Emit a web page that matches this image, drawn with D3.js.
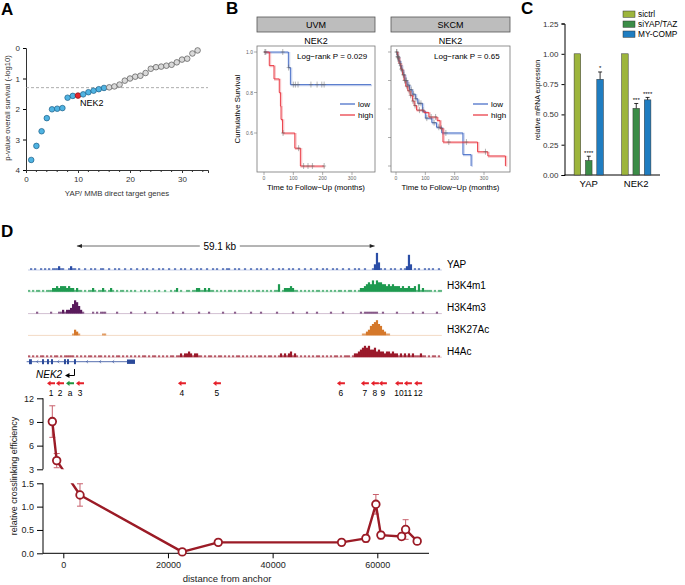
<!DOCTYPE html>
<html><head><meta charset="utf-8">
<script src="https://cdn.jsdelivr.net/npm/d3@7"></script>
<style>body{margin:0;background:#fff} svg{display:block} text{font-family:"Liberation Sans",Arial,Helvetica,sans-serif}</style>
</head><body><svg id="c" width="685" height="585"></svg>
<script>
// ---------------- DATA ----------------
// Panel A
const survNegLogP = [3.67,3.21,2.73,2.30,2.01,1.99,1.97,1.63,1.57,1.56,1.52,1.45,1.40,1.35,1.31,1.29,1.26,1.20,1.07,1.00,0.94,0.91,0.82,0.68,0.63,0.61,0.58,0.55,0.47,0.38,0.35,0.18,0.08];
const survStatus = ["sig","sig","sig","sig","sig","sig","sig","sig","sig","nek2","sig","sig","sig","sig","sig","ns","ns","ns","ns","ns","ns","ns","ns","ns","ns","ns","ns","ns","ns","ns","ns","ns","ns"];
const survThreshold = 1.3;
const aYTicks = [0,1,2,3,4];
const aXTicks = [0,10,20,30];

// Panel B
const uvmLow = [[0,1.0],[83,0.923],[90,0.839]];
const uvmLowEnd = 365;
const uvmLowCensor = [3,6,64,84,100,107,116,160,181,197,205];
const uvmHigh = [[0,1.0],[18,0.933],[34,0.867],[52,0.80],[56,0.733],[58,0.667],[63,0.60],[105,0.525],[124,0.437]];
const uvmHighEnd = 205;
const uvmHighCensor = [65,118,135,150,165,205];
const skcmLow = [[0,1.0],[4,0.96],[9,0.92],[14,0.88],[19,0.84],[24,0.80],[30,0.75],[38,0.71],[46,0.67],[55,0.63],[66,0.59],[74,0.55],[90,0.48],[100,0.42],[122,0.38],[138,0.34],[156,0.29],[228,0.10],[256,0.0]];
const skcmLowEnd = 256;
const skcmLowCensor = [2,5,7,11,16,21,27,33,36,44,52,60,68,78,85,105,130,146,170];
const skcmHigh = [[0,1.0],[5,0.95],[10,0.90],[16,0.85],[22,0.80],[27,0.75],[33,0.70],[40,0.66],[48,0.62],[56,0.57],[62,0.53],[70,0.49],[95,0.47],[112,0.43],[140,0.40],[150,0.33],[160,0.21],[278,0.125],[313,0.088],[373,0.0]];
const skcmHighEnd = 373;
const skcmHighCensor = [3,6,9,13,18,25,29,37,45,50,58,65,80,92,120,135,155,180,240,305];
const bUvmYTicks = [0.6,0.8,1.0];
const bSkcmYTicks = [0,0.25,0.5,0.75,1.0];
const bXTicks = [0,100,200,300];

// Panel C
const cGenes = ["YAP","NEK2"];
const cSeries = ["sictrl","siYAP/TAZ","MY-COMP"];
const cValues = [[1.0,0.12,0.79],[1.0,0.55,0.62]];
const cErrors = [[0,0.035,0.06],[0,0.04,0.02]];
const cStars = [["","****","*"],["","***","****"]];
const cColors = ["#9db53c","#3b8c47","#1f7dc1"];
const cYTicks = [0,0.25,0.5,0.75,1.0,1.25];

// Panel D
const trackNames = ["YAP","H3K4m1","H3K4m3","H3K27Ac","H4Ac"];
const trackColors = ["#2b4ea6","#1e9a50","#5a1b5c","#d5782b","#9b1a2b"];
const trackStart = -6740, trackBin = 382;
const sigYAP = Array.from("0101001010"+"1011121100"+"1211010010"+"0101001100"+"1001010010"+"0100100101"+"0010010100"+"1001001010"+"0100101001"+"0010100101"+"1001010010"+"0100101001"+"0010010100"+"1010010010"+"0100100101"+"0010100100"+"1001010010"+"0013941010"+"0101001012"+"8301010010"+"1010010", Number);
const sigH3K4m1 = Array.from("1010110101"+"1122323332"+"3221211010"+"1121011210"+"1210101101"+"0101001010"+"1001010010"+"0101201001"+"1011221121"+"2110101010"+"1101011010"+"1010110101"+"0101140122"+"2321101010"+"1010110101"+"0101011010"+"1101012234"+"5464655443"+"4343332322"+"3223141211"+"1101011", Number);
const sigH3K4m3 = Array.from("0000100000"+"0100011212"+"2357642100"+"0010101110"+"0000100000"+"0100000010"+"0000100000"+"0010000100"+"0000010000"+"1000000100"+"0001000000"+"0100001000"+"0000100000"+"0010000001"+"0000100000"+"0100000100"+"0000001011"+"1111100100"+"0000100000"+"0010000100"+"0000100", Number);
const sigH3K27Ac = Array.from("0000000000"+"0000000000"+"0013210000"+"0000000110"+"0000000000"+"0000000000"+"0000000000"+"0000000000"+"0000000000"+"0000000000"+"0000000000"+"0000000000"+"0000000000"+"0000000000"+"0000000000"+"0000000000"+"0000000112"+"3567865321"+"1000000000"+"0000000000"+"0000000", Number);
const sigH4Ac = Array.from("1010101101"+"0101101011"+"1110101010"+"1101011010"+"1010110101"+"0101010110"+"1011010101"+"0110112122"+"3212211010"+"1101011010"+"1010110101"+"0101011010"+"1101012121"+"2312101010"+"1010110101"+"0101101011"+"1012234565"+"6445343323"+"3232212121"+"2121112110"+"1011010", Number);
const trackSignals = [sigYAP,sigH3K4m1,sigH3K4m3,sigH3K27Ac,sigH4Ac];
const geneSpan = [-7000, 13700];
const geneExons = [[-6550,-6000],[-4070,-3690],[-3120,-2740],[-2350,-1970],[130,510],[700,1090],[2040,2420],[12170,13700]];
const scaleBar = [2600, 59500];
const scaleBarLabel = "59.1 kb";
const primerLabels = ["1","2","a","3","4","5","6","7","8","9","10","11","12"];
const primerPos = [-2350,-630,1280,3190,22670,29360,53050,57630,59540,61070,64150,65850,67800];
const xlDist = [-2100,-1260,3190,22730,29610,53180,57820,59730,60690,64640,65410,67620];
const xlVal = [9.05,4.1,1.25,0.03,0.235,0.235,0.32,1.05,0.39,0.36,0.51,0.26];
const xlErr = [2.0,0.9,0.24,0.02,0.03,0.02,0.08,0.21,0.08,0.07,0.21,0.07];
const dXTicks = [0,20000,40000,60000];
const dUpTicks = [3,6,9,12];
const dLoTicks = [0,0.5,1.0,1.5];

// ---------------- DRAW ----------------
const svg = d3.select("#c");
svg.append("rect").attr("width",685).attr("height",585).attr("fill","#fff");
function label(t,x,y){svg.append("text").attr("x",x).attr("y",y).attr("font-size",17).attr("font-weight","bold").text(t);}
label("A",1,15); label("B",226,14); label("C",521,14); label("D",1,237);

// ===== Panel A =====
{
  const g = svg.append("g");
  const x = d3.scaleLinear().domain([0,35]).range([26,208]);
  const y = d3.scaleLinear().domain([0,4]).range([48,170]);
  const ax = g.append("g").attr("transform","translate(0,170)")
    .call(d3.axisBottom(x).tickValues(aXTicks).tickSize(3).tickFormat(d3.format("d")));
  ax.selectAll("text").attr("font-size",8).attr("fill","#333");
  ax.select(".domain").attr("stroke","#333");
  ax.selectAll(".tick line").attr("stroke","#333");
  g.append("g").selectAll("line").data(d3.range(2,35,2).filter(v=>v%10!==0)).join("line")
    .attr("x1",d=>x(d)).attr("x2",d=>x(d)).attr("y1",170).attr("y2",172).attr("stroke","#333");
  const ay = g.append("g").attr("transform","translate(26,0)")
    .call(d3.axisLeft(y).tickValues(aYTicks).tickSize(3).tickFormat(d3.format("d")));
  ay.selectAll("text").attr("font-size",8).attr("fill","#333");
  ay.select(".domain").attr("stroke","#333");
  g.append("line").attr("x1",x(0)).attr("x2",x(35)).attr("y1",y(survThreshold)).attr("y2",y(survThreshold))
    .attr("stroke","#999").attr("stroke-dasharray","3,2").attr("stroke-width",0.8);
  const fill = {sig:"#4fb3e2",nek2:"#e5262c",ns:"#d9d9d9"};
  const strk = {sig:"#1d5f86",nek2:"#8a1014",ns:"#555"};
  g.selectAll("circle").data(survNegLogP).join("circle")
    .attr("cx",(d,i)=>x(i+1)).attr("cy",d=>y(d)).attr("r",2.8)
    .attr("fill",(d,i)=>fill[survStatus[i]]).attr("stroke",(d,i)=>strk[survStatus[i]]).attr("stroke-width",0.7);
  const ni = survStatus.indexOf("nek2");
  g.append("text").attr("x",x(ni+1)+2).attr("y",y(survNegLogP[ni])+10).attr("font-size",9).text("NEK2");
  g.append("text").attr("x",x(17.5)).attr("y",196).attr("text-anchor","middle").attr("font-size",7.8).attr("fill","#333").text("YAP/ MMB direct target genes");
  g.append("text").attr("transform","translate(10,108) rotate(-90)").attr("text-anchor","middle").attr("font-size",7.6).attr("fill","#333").text("p-value overall survival (-log10)");
}

// ===== Panel B =====
function survPanel(opt){
  const g = svg.append("g");
  const {x0,x1,yTop,yBot} = opt;
  g.append("rect").attr("x",x0).attr("y",17).attr("width",x1-x0).attr("height",15).attr("fill","#bdbdbd").attr("stroke","#555").attr("stroke-width",0.8);
  g.append("text").attr("x",(x0+x1)/2).attr("y",28).attr("text-anchor","middle").attr("font-size",9).text(opt.name);
  g.append("text").attr("x",(x0+x1)/2).attr("y",44).attr("text-anchor","middle").attr("font-size",9).text("NEK2");
  g.append("rect").attr("x",x0).attr("y",yTop).attr("width",x1-x0).attr("height",yBot-yTop).attr("fill","#fff").attr("stroke","#777").attr("stroke-width",0.8);
  const x = opt.x, y = opt.y;
  g.selectAll(".yt").data(opt.yTicks).join("line").attr("x1",x0-3).attr("x2",x0).attr("y1",d=>y(d)).attr("y2",d=>y(d)).attr("stroke","#777").attr("stroke-width",0.6);
  if(opt.yLabels) g.selectAll(".ytl").data(opt.yTicks).join("text").attr("x",x0-4).attr("y",d=>y(d)+2).attr("text-anchor","end").attr("font-size",5).attr("fill","#666").text(d=>d.toFixed(1));
  g.selectAll(".xt").data(bXTicks).join("line").attr("x1",d=>x(d)).attr("x2",d=>x(d)).attr("y1",yBot).attr("y2",yBot+3).attr("stroke","#777").attr("stroke-width",0.6);
  g.selectAll(".xtl").data(bXTicks).join("text").attr("x",d=>x(d)).attr("y",yBot+8).attr("text-anchor","middle").attr("font-size",5).attr("fill","#666").text(d=>d);
  const clipId = "clip"+opt.name;
  g.append("clipPath").attr("id",clipId).append("rect").attr("x",x0).attr("y",yTop).attr("width",x1-x0).attr("height",yBot-yTop);
  const line = d3.line().x(d=>x(d[0])).y(d=>y(d[1])).curve(d3.curveStepAfter);
  const sAt = (st,t)=>{let s=st[0][1]; for(const p of st){ if(p[0]<=t) s=p[1]; } return s;};
  const curves = [[opt.low,opt.lowEnd,opt.lowC,"#3d66c4"],[opt.high,opt.highEnd,opt.highC,"#e8303a"]];
  const cg = g.append("g").attr("clip-path",`url(#${clipId})`);
  curves.forEach(([st,end,cens,col])=>{
    const pts = st.concat([[end, st[st.length-1][1]]]);
    cg.append("path").attr("d",line(pts)).attr("fill","none").attr("stroke",col).attr("stroke-width",1.8).attr("stroke-opacity",0.28).attr("transform","translate(1,0.8)");
    cg.append("path").attr("d",line(pts)).attr("fill","none").attr("stroke",col).attr("stroke-width",0.9);
  });
  curves.forEach(([st,end,cens,col])=>{
    cg.selectAll(null).data(cens).join("path")
      .attr("d",t=>`M${x(t)},${y(sAt(st,t))-3}V${y(sAt(st,t))+3}M${x(t)-2},${y(sAt(st,t))}H${x(t)+2}`)
      .attr("stroke","#666").attr("stroke-opacity",0.7).attr("stroke-width",0.7);
  });
  g.append("text").attr("x",opt.lrX).attr("y",59).attr("font-size",8).text(opt.lr);
  [["low","#3d66c4",104],["high","#e8303a",115]].forEach(([t,c,yy])=>{
    g.append("line").attr("x1",opt.legX).attr("x2",opt.legX+15).attr("y1",yy).attr("y2",yy).attr("stroke",c).attr("stroke-width",1.2);
    g.append("text").attr("x",opt.legX+18).attr("y",yy+3).attr("font-size",8).text(t);
  });
  g.append("text").attr("x",(x0+x1)/2).attr("y",190).attr("text-anchor","middle").attr("font-size",7.8).text("Time to Follow\u2212Up (months)");
}
survPanel({name:"UVM",x0:257,x1:375,yTop:46,yBot:172,
  x:d3.scaleLinear().domain([0,300]).range([264,352]),
  y:d3.scaleLinear().domain([0.6,1.0]).range([133,52]),
  yTicks:bUvmYTicks,yLabels:true,
  low:uvmLow,lowEnd:uvmLowEnd,lowC:uvmLowCensor,high:uvmHigh,highEnd:uvmHighEnd,highC:uvmHighCensor,
  lr:"Log\u2212rank P = 0.029",lrX:297,legX:340});
survPanel({name:"SKCM",x0:391,x1:510,yTop:46,yBot:172,
  x:d3.scaleLinear().domain([0,300]).range([396,484]),
  y:d3.scaleLinear().domain([0,1.0]).range([166,52]),
  yTicks:bSkcmYTicks,yLabels:false,
  low:skcmLow,lowEnd:skcmLowEnd,lowC:skcmLowCensor,high:skcmHigh,highEnd:skcmHighEnd,highC:skcmHighCensor,
  lr:"Log\u2212rank P = 0.65",lrX:434,legX:473});
svg.append("text").attr("transform","translate(240,109) rotate(-90)").attr("text-anchor","middle").attr("font-size",7.8).text("Cumulative Survival");

// ===== Panel C =====
{
  const g = svg.append("g");
  const y = d3.scaleLinear().domain([0,1.25]).range([175,23.5]);
  const xg = d3.scaleBand().domain(cGenes).range([565,660]);
  const xs = d3.scalePoint().domain(cSeries).range([12.4,35.1]);
  const ay = g.append("g").attr("transform","translate(564.5,0)").call(d3.axisLeft(y).tickValues(cYTicks).tickSize(3).tickFormat(d3.format(".2f")));
  ay.selectAll("text").attr("font-size",8).attr("fill","#333");
  g.append("line").attr("x1",564.5).attr("x2",660).attr("y1",175).attr("y2",175).attr("stroke","#000");
  const bw = 6.6;
  cGenes.forEach((gene,gi)=>{
    cSeries.forEach((s,si)=>{
      const cx = xg(gene)+xs(s), v = cValues[gi][si], e = cErrors[gi][si];
      g.append("rect").attr("x",cx-bw/2).attr("y",y(v)).attr("width",bw).attr("height",175-y(v)).attr("fill",cColors[si]).attr("stroke","#333").attr("stroke-width",0.5);
      if(e>0){
        g.append("line").attr("x1",cx).attr("x2",cx).attr("y1",y(v)).attr("y2",y(v+e)).attr("stroke","#000").attr("stroke-width",0.8);
        g.append("line").attr("x1",cx-2).attr("x2",cx+2).attr("y1",y(v+e)).attr("y2",y(v+e)).attr("stroke","#000").attr("stroke-width",0.8);
      }
      if(cStars[gi][si]) g.append("text").attr("x",cx).attr("y",y(v+e)-1.5).attr("text-anchor","middle").attr("font-size",6).text(cStars[gi][si]);
    });
    g.append("text").attr("x",xg(gene)+xg.bandwidth()/2).attr("y",187).attr("text-anchor","middle").attr("font-size",9.5).text(gene);
  });
  cSeries.forEach((s,si)=>{
    const yy = 11+si*10;
    g.append("rect").attr("x",623).attr("y",yy).attr("width",12).attr("height",6.3).attr("fill",cColors[si]).attr("stroke","#333").attr("stroke-width",0.5);
    g.append("text").attr("x",638).attr("y",yy+6).attr("font-size",8.3).text(s);
  });
  g.append("text").attr("transform","translate(540,100) rotate(-90)").attr("text-anchor","middle").attr("font-size",7).text("relative mRNA expression");
}

// ===== Panel D =====
{
  const g = svg.append("g");
  const x = d3.scaleLinear().domain([0,60000]).range([63.3,377.3]);
  const sbY = 246;
  g.append("line").attr("x1",x(scaleBar[0])).attr("x2",x(scaleBar[1])).attr("y1",sbY).attr("y2",sbY).attr("stroke","#444").attr("stroke-width",0.8);
  g.append("path").attr("d",`M${x(scaleBar[0])},${sbY}l5,-2v4z`).attr("fill","#222");
  g.append("path").attr("d",`M${x(scaleBar[1])},${sbY}l-5,-2v4z`).attr("fill","#222");
  const mid = (x(scaleBar[0])+x(scaleBar[1]))/2 - 6;
  g.append("rect").attr("x",mid-20).attr("y",sbY-6).attr("width",40).attr("height",12).attr("fill","#fff");
  g.append("text").attr("x",mid).attr("y",sbY+3.5).attr("text-anchor","middle").attr("font-size",10).text(scaleBarLabel);
  const unit = 1.9;
  trackSignals.forEach((sig,ti)=>{
    const base = 270 + ti*21.8;
    const col = trackColors[ti];
    g.append("line").attr("x1",x(trackStart)).attr("x2",x(trackStart+trackBin*sig.length)).attr("y1",base).attr("y2",base).attr("stroke",col).attr("stroke-opacity",0.35).attr("stroke-width",0.8);
    g.append("g").selectAll("rect").data(sig).join("rect")
      .attr("x",(d,i)=>x(trackStart+i*trackBin)).attr("width",x(trackBin)-x(0)+0.2)
      .attr("y",d=>base-d*unit).attr("height",d=>d*unit).attr("fill",col).attr("fill-opacity",d=>d<=1?0.7:1);
    g.append("text").attr("x",447).attr("y",base-2.5).attr("font-size",10).text(trackNames[ti]);
  });
  const gy = 361.7, gc = "#2b4a9a";
  g.append("line").attr("x1",x(geneSpan[0])).attr("x2",x(geneSpan[1])).attr("y1",gy).attr("y2",gy).attr("stroke",gc).attr("stroke-width",0.8);
  g.selectAll(".ex").data(geneExons).join("rect").attr("x",d=>x(d[0])).attr("width",d=>Math.max(1,x(d[1])-x(d[0])))
    .attr("y",(d,i)=>i===geneExons.length-1?gy-2.2:gy-2.5).attr("height",(d,i)=>i===geneExons.length-1?4.4:5).attr("fill",gc);
  g.selectAll(".chev").data([-5000,-1000,4500,7000,9500]).join("path")
    .attr("d",d=>`M${x(d)+1.2},${gy-1.5}L${x(d)-0.5},${gy}L${x(d)+1.2},${gy+1.5}`).attr("fill","none").attr("stroke",gc).attr("stroke-width",0.6);
  g.append("text").attr("x",36).attr("y",378).attr("font-size",10).attr("font-style","italic").text("NEK2");
  g.append("path").attr("d","M74.5,369V375.5H69").attr("fill","none").attr("stroke","#000").attr("stroke-width",1);
  g.append("path").attr("d","M65,375.5l4.5,-2.5v5z").attr("fill","#000");
  const py = 383.3;
  primerPos.forEach((p,i)=>{
    const cx = x(p), col = primerLabels[i]==="a" ? "#1e9440" : "#e5202a";
    g.append("path").attr("d",`M${cx-4},${py}l3.5,-2.6v1.6h4.5v2h-4.5v1.6z`).attr("fill",col);
    g.append("text").attr("x",cx).attr("y",py+13).attr("text-anchor","middle").attr("font-size",8.4).text(primerLabels[i]);
  });
  const yUp = d3.scaleLinear().domain([3,12]).range([469.3,398.3]);
  const yLo = d3.scaleLinear().domain([0,1.5]).range([553.3,483.3]);
  const yy = v => v>=3 ? yUp(v) : yLo(v);
  const axUp = g.append("g").attr("transform","translate(43,0)").call(d3.axisLeft(yUp).tickValues(dUpTicks).tickSize(6).tickFormat(d3.format("d")));
  const axLo = g.append("g").attr("transform","translate(43,0)").call(d3.axisLeft(yLo).tickValues(dLoTicks).tickSize(6).tickFormat(d3.format(".1f")));
  [axUp,axLo].forEach(a=>{a.selectAll("text").attr("font-size",9).attr("fill","#222"); a.select(".domain").attr("d",null);});
  g.append("line").attr("x1",43).attr("x2",43).attr("y1",yUp(12)).attr("y2",yUp(3)).attr("stroke","#000");
  g.append("line").attr("x1",43).attr("x2",43).attr("y1",yLo(1.5)).attr("y2",yLo(0)).attr("stroke","#000");
  const axX = g.append("g").attr("transform","translate(0,553.3)").call(d3.axisBottom(x).tickValues(dXTicks).tickSize(5).tickFormat(d3.format("d")));
  axX.selectAll("text").attr("font-size",9).attr("fill","#222");
  axX.select(".domain").attr("d","M43,0H429");
  g.append("text").attr("x",227).attr("y",582).attr("text-anchor","middle").attr("font-size",9.5).attr("fill","#222").text("distance from anchor");
  g.append("text").attr("transform","translate(17,476) rotate(-90)").attr("text-anchor","middle").attr("font-size",9).attr("fill","#222").text("relative crosslinking efficiency");
  const cp = g.append("clipPath").attr("id","brk");
  cp.append("rect").attr("x",40).attr("y",390).attr("width",400).attr("height",469.3-390);
  cp.append("rect").attr("x",40).attr("y",483.3).attr("width",400).attr("height",80);
  const lc = "#9b1b26";
  xlDist.forEach((d,i)=>{
    const cx = x(d), t = yy(xlVal[i]+xlErr[i]), b = yy(xlVal[i]-xlErr[i]);
    g.append("path").attr("d",`M${cx},${t}V${b}M${cx-3},${t}H${cx+3}M${cx-3},${b}H${cx+3}`).attr("stroke","#c8606c").attr("stroke-width",1).attr("fill","none");
  });
  const pts = xlDist.map((d,i)=>[x(d),yy(xlVal[i])]);
  g.append("path").attr("clip-path","url(#brk)").attr("d",d3.line()(pts)).attr("fill","none").attr("stroke",lc).attr("stroke-width",2.4).attr("stroke-linejoin","round");
  g.selectAll(".pt").data(pts).join("circle").attr("cx",d=>d[0]).attr("cy",d=>d[1]).attr("r",3.8).attr("fill","#fff").attr("stroke",lc).attr("stroke-width",1.8);
}
</script></body></html>
